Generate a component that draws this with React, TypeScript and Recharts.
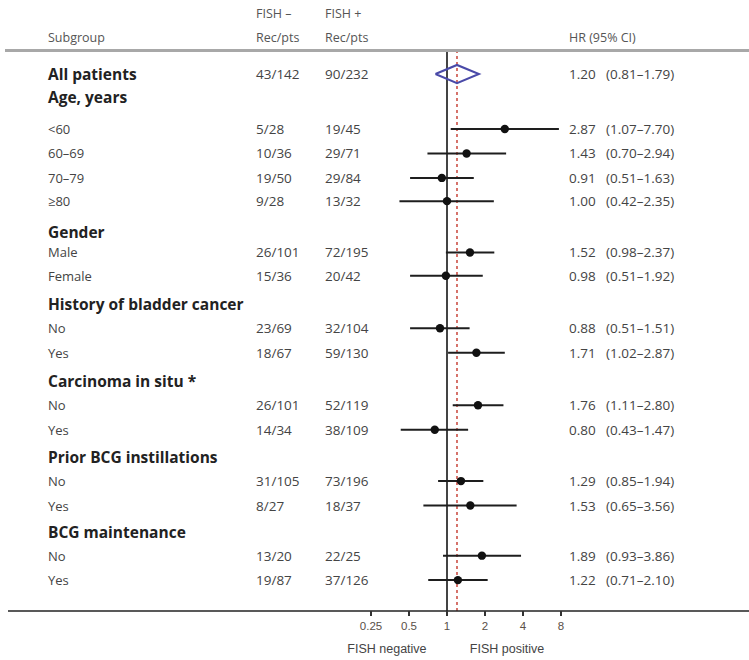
import { ScatterChart, Scatter, XAxis, YAxis, ErrorBar, ReferenceLine } from 'recharts'

const LABELS = ['All patients', 'Age, years', '<60', '60–69', '70–79', '≥80', 'Gender', 'Male', 'Female',
  'History of bladder cancer', 'No', 'Yes', 'Carcinoma in situ *', 'No', 'Yes',
  'Prior BCG instillations', 'No', 'Yes', 'BCG maintenance', 'No', 'Yes']
const ROW_POS = [0, 0.95, 2.25, 3.25, 4.25, 5.2, 6.45, 7.3, 8.25, 9.4, 10.4, 11.4, 12.55, 13.55, 14.55,
  15.65, 16.65, 17.65, 18.75, 19.7, 20.7]
const FISH_NEG = ['43/142', '', '5/28', '10/36', '19/50', '9/28', '', '26/101', '15/36', '', '23/69', '18/67',
  '', '26/101', '14/34', '', '31/105', '8/27', '', '13/20', '19/87']
const FISH_POS = ['90/232', '', '19/45', '29/71', '29/84', '13/32', '', '72/195', '20/42', '', '32/104', '59/130',
  '', '52/119', '38/109', '', '73/196', '18/37', '', '22/25', '37/126']
const HR = [1.20, null, 2.87, 1.43, 0.91, 1.00, null, 1.52, 0.98, null, 0.88, 1.71, null, 1.76, 0.80,
  null, 1.29, 1.53, null, 1.89, 1.22]
const LO = [0.81, null, 1.07, 0.70, 0.51, 0.42, null, 0.98, 0.51, null, 0.51, 1.02, null, 1.11, 0.43,
  null, 0.85, 0.65, null, 0.93, 0.71]
const HI = [1.79, null, 7.70, 2.94, 1.63, 2.35, null, 2.37, 1.92, null, 1.51, 2.87, null, 2.80, 1.47,
  null, 1.94, 3.56, null, 3.86, 2.10]
const X_TICKS = [0.25, 0.5, 1, 2, 4, 8]
const CAPTIONS = ['FISH negative', 'FISH positive']

const W = 749
const H = 660
const FONT = '"Open Sans", Lato, sans-serif'
const ARIAL = '"Liberation Sans", Arial, sans-serif'
const COL_LABEL = 48
const COL_NEG = 256
const COL_POS = 325
const COL_HR = 569
const COL_CI = 606

const lg = (v: number) => Math.log2(v)

// study rows (point + CI); the overall row is drawn as a diamond
const points = HR.map((hr, i) => ({ hr, i }))
  .filter(d => d.hr != null && d.i > 0)
  .map(({ hr, i }) => ({
    x: lg(hr as number),
    y: ROW_POS[i],
    err: [lg(hr as number) - lg(LO[i] as number), lg(HI[i] as number) - lg(hr as number)],
  }))

const DH = 0.37
const diamond = [
  { x: lg(LO[0] as number), y: ROW_POS[0] },
  { x: lg(HR[0] as number), y: ROW_POS[0] - DH },
  { x: lg(HI[0] as number), y: ROW_POS[0] },
  { x: lg(HR[0] as number), y: ROW_POS[0] + DH },
  { x: lg(LO[0] as number), y: ROW_POS[0] },
]

// one invisible point per caption so the caption axis is in use
const captionAnchors = [{ x: -1.58, y: 0 }, { x: 1.58, y: 0 }]

function RowTick(props: any) {
  const { y, payload, index } = props
  let i = ROW_POS.indexOf(payload?.value)
  if (i < 0) i = index
  if (i == null || i < 0 || i >= LABELS.length) return <g />
  const head = i === 0 || HR[i] == null
  const txt = { fontFamily: FONT, fontSize: 13.5, fill: '#444', dominantBaseline: 'central' as const }
  return (
    <g>
      <text x={COL_LABEL} y={y} {...txt} fontSize={head ? 15.5 : 13} fontWeight={head ? 700 : 400}
        fill={head ? '#222' : '#444'}>{LABELS[i]}</text>
      {FISH_NEG[i] && <text x={COL_NEG} y={y} {...txt}>{FISH_NEG[i]}</text>}
      {FISH_POS[i] && <text x={COL_POS} y={y} {...txt}>{FISH_POS[i]}</text>}
      {HR[i] != null && <text x={COL_HR} y={y} {...txt}>{(HR[i] as number).toFixed(2)}</text>}
      {HR[i] != null && (
        <text x={COL_CI} y={y} {...txt}>
          ({(LO[i] as number).toFixed(2)}–{(HI[i] as number).toFixed(2)})
        </text>
      )}
    </g>
  )
}

const Dot = (p: any) => <circle cx={p.cx} cy={p.cy} r={4.2} fill="#111" />

const headStyle = { position: 'absolute' as const, fontFamily: FONT, fontSize: 12.5, color: '#555', lineHeight: '14px' }

export default function App() {
  const xDomain = [(8 - 447) / 38, (W - 447) / 38]
  return (
    <div style={{ position: 'absolute', left: 0, top: 0, width: W, height: H, background: '#fff' }}>
      <div style={{ ...headStyle, left: COL_LABEL, top: 31 }}>Subgroup</div>
      <div style={{ ...headStyle, left: COL_NEG, top: 7 }}>FISH –</div>
      <div style={{ ...headStyle, left: COL_NEG, top: 31 }}>Rec/pts</div>
      <div style={{ ...headStyle, left: COL_POS, top: 7 }}>FISH +</div>
      <div style={{ ...headStyle, left: COL_POS, top: 31 }}>Rec/pts</div>
      <div style={{ ...headStyle, left: COL_HR, top: 31 }}>HR (95% CI)</div>
      <div style={{ position: 'absolute', left: 5, top: 49, width: W - 5, height: 3, background: '#a8a8a8' }} />
      <div style={{ position: 'absolute', left: 0, top: 0 }}>
        <ScatterChart width={W} height={H} margin={{ top: 52, right: 0, bottom: 2, left: 7 }}>
          <XAxis type="number" dataKey="x" domain={xDomain} allowDataOverflow
            ticks={X_TICKS.map(lg)} tickFormatter={(v: number) => String(2 ** v)} interval={0}
            height={31} tickSize={5} tickMargin={6}
            axisLine={{ stroke: '#222', strokeWidth: 1.5 }} tickLine={{ stroke: '#333', strokeWidth: 2 }}
            tick={{ fontFamily: ARIAL, fontSize: 11.5, fill: '#5a5048' }} />
          <XAxis xAxisId="cap" type="number" dataKey="x" domain={xDomain} allowDataOverflow
            ticks={captionAnchors.map(c => c.x)} tickFormatter={(v: number) => (v < 0 ? CAPTIONS[0] : CAPTIONS[1])}
            interval={0} height={16} tickSize={0} tickMargin={2} axisLine={false} tickLine={false}
            tick={{ fontFamily: ARIAL, fontSize: 12.5, fill: '#444' }} />
          <YAxis type="number" dataKey="y" reversed domain={[-0.9, (611 - 74) / 24.45]} allowDataOverflow
            ticks={ROW_POS} interval={0} width={1} axisLine={false} tickLine={false} tick={RowTick} />
          <ReferenceLine x={0} stroke="#444" strokeWidth={2} />
          <ReferenceLine x={lg(HR[0] as number)} stroke="#c8453a" strokeWidth={1.5} strokeDasharray="3 3" />
          <Scatter xAxisId="cap" data={captionAnchors} shape={() => <g />} isAnimationActive={false} />
          <Scatter data={diamond} line={{ stroke: '#4a4aa8', strokeWidth: 2 }} lineType="joint"
            shape={() => <g />} isAnimationActive={false} />
          <Scatter data={points} shape={Dot} isAnimationActive={false}>
            <ErrorBar dataKey="err" direction="x" width={0} stroke="#1e1e1e" strokeWidth={2} isAnimationActive={false} />
          </Scatter>
        </ScatterChart>
      </div>
    </div>
  )
}
